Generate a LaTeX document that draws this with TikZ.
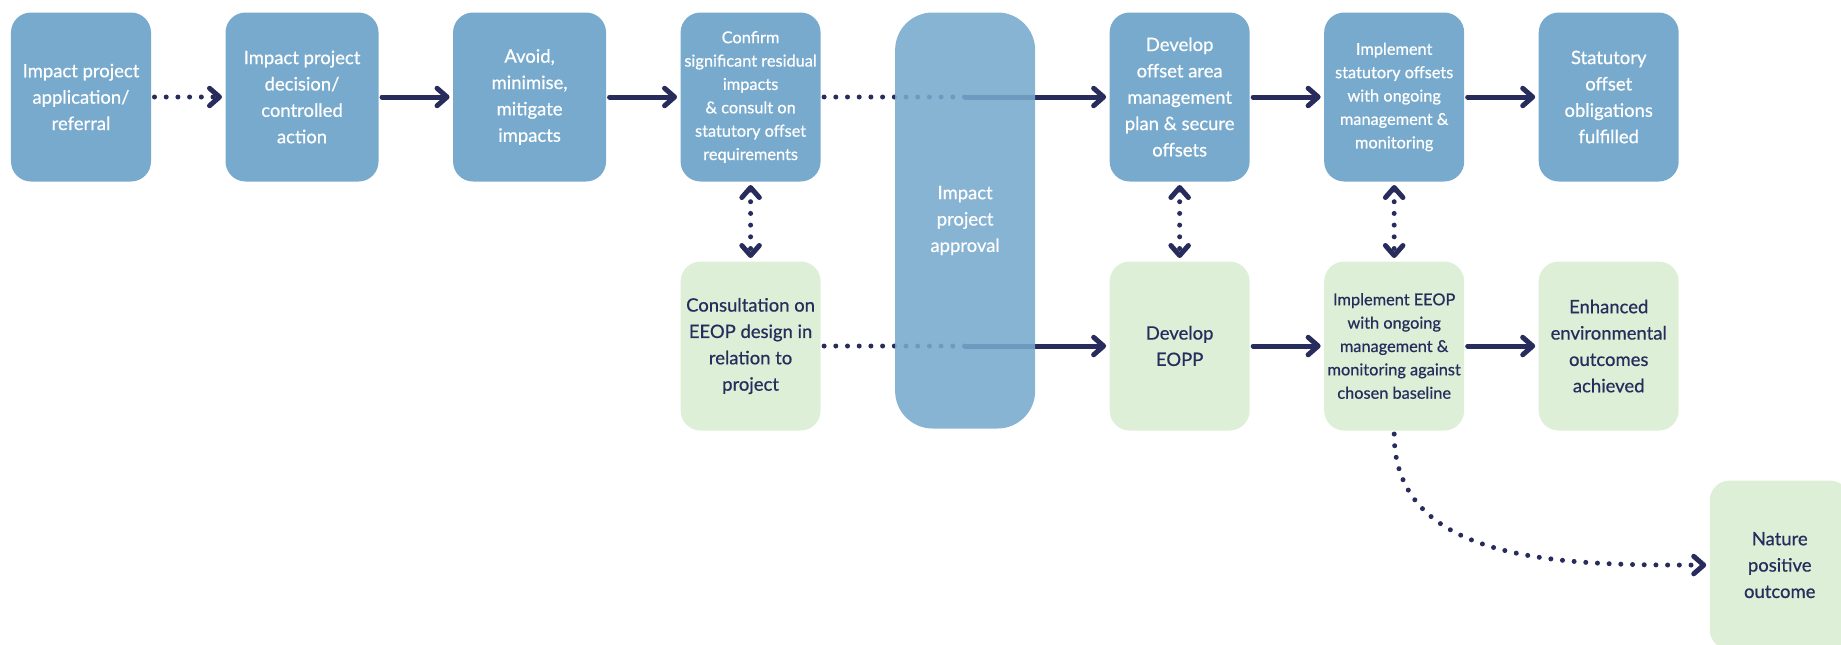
\documentclass[tikz,border=0pt]{standalone}
\usepackage{fontspec}
\setmainfont{Lato}[FakeBold=0.6]
\usetikzlibrary{positioning,arrows.meta,backgrounds,calc}
\definecolor{navy}{HTML}{282C5C}
\definecolor{stepblue}{HTML}{78AACD}
\definecolor{stepgreen}{HTML}{DDEFD7}

\begin{document}
\begin{tikzpicture}[
  >={Straight Barb[length=2mm, width=3.5mm, line join=round, line cap=round]},
  box/.style={rounded corners=0.4cm, align=center, inner sep=1pt, outer sep=2pt,
              minimum width=2.8cm, minimum height=3.38cm,
              font=\fontsize{10.5}{15}\selectfont},
  bluebox/.style={box, fill=stepblue, text=white},
  greenbox/.style={box, fill=stepgreen, text=navy},
  wide/.style={minimum width=3.06cm},
  small/.style={font=\fontsize{9.3}{13.3}\selectfont},
  approvalbox/.style={bluebox, fill opacity=0.88, text opacity=1,
                      rounded corners=0.75cm, minimum height=8.32cm},
  arr/.style={->, navy, line width=1mm, line cap=round},
  dotline/.style={navy, line width=1mm, line cap=round, dash pattern=on 0pt off 2.34mm},
  dotarr/.style={arr, dash pattern=on 0pt off 2.34mm},
  dotboth/.style={dotarr, <->}
]
\useasboundingbox (0,0) rectangle (36.82,-12.9);
% ---------------- Statutory offset pathway ----------------
\node[bluebox] (app) at (1.62,-1.94) {Impact project\\application/\\referral};
\node[bluebox, wide, right=1.35cm of app] (dec) {Impact project\\decision/\\controlled\\action};
\node[bluebox, wide, right=1.35cm of dec] (avoid) {Avoid,\\minimise,\\mitigate\\impacts};
\node[bluebox, small, right=1.35cm of avoid] (conf)
  {Confirm\\significant residual\\impacts\\\& consult on\\statutory offset\\requirements};
\node[approvalbox, right=1.35cm of conf.north east, anchor=north west] (appr)
  {Impact\\project\\approval};
\node[bluebox, right=1.35cm of appr.north east, anchor=north west] (dev)
  {Develop\\offset area\\management\\plan \& secure\\offsets};
\node[bluebox, small, right=1.35cm of dev] (impl)
  {Implement\\statutory offsets\\with ongoing\\management \&\\monitoring};
\node[bluebox, right=1.35cm of impl] (stat) {Statutory\\offset\\obligations\\fulfilled};
% ---------------- EEOP pathway ----------------
\node[greenbox, below=1.46cm of conf] (cons) {Consultation on\\EEOP design in\\relation to\\project};
\node[greenbox, below=1.46cm of dev] (eopp) {Develop\\EOPP};
\node[greenbox, small, below=1.46cm of impl] (eeop)
  {Implement EEOP\\with ongoing\\management \&\\monitoring against\\chosen baseline};
\node[greenbox, below=1.46cm of stat] (enh) {Enhanced\\environmental\\outcomes\\achieved};
\node[greenbox, anchor=north west] (nat) at ([xshift=0.48cm, yshift=-0.86cm]enh.south east)
  {Nature\\positive\\outcome};
% ---------------- Connectors ----------------
\begin{scope}[on background layer]
  \draw[dotarr] (app) -- (dec);
  \draw[arr] (dec) -- (avoid);
  \draw[arr] (avoid) -- (conf);
  \coordinate (m1) at (appr.center |- conf.east);
  \draw[dotline] (conf) -- (m1);
  \draw[arr] (m1) -- (dev);
  \draw[arr] (dev) -- (impl);
  \draw[arr] (impl) -- (stat);
  \coordinate (m2) at (appr.center |- cons.east);
  \draw[dotline] (cons) -- (m2);
  \draw[arr] (m2) -- (eopp);
  \draw[arr] (eopp) -- (eeop);
  \draw[arr] (eeop) -- (enh);
  \draw[dotboth] (conf) -- (cons);
  \draw[dotboth] (dev) -- (eopp);
  \draw[dotboth] (impl) -- (eeop);
  \draw[dotarr] (eeop.south) to[out=-90, in=180] (nat.west);
\end{scope}
\end{tikzpicture}
\end{document}
